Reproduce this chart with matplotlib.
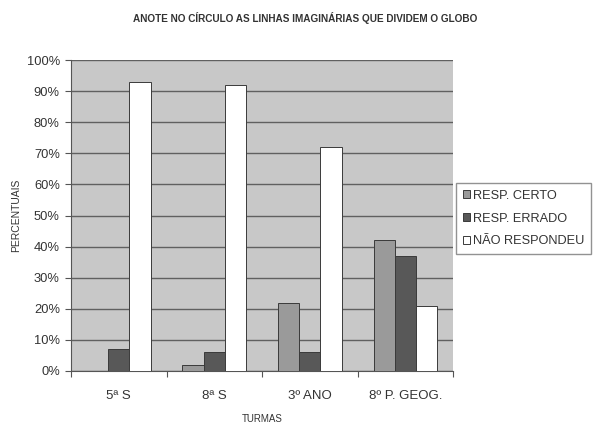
import numpy as np
import matplotlib
matplotlib.use("Agg")
import matplotlib.pyplot as plt
from matplotlib.ticker import FuncFormatter

plt.rcParams["font.family"] = ["Liberation Sans", "DejaVu Sans"]

turmas = ["5ª S", "8ª S", "3º ANO", "8º P. GEOG."]
series = ["RESP. CERTO", "RESP. ERRADO", "NÃO RESPONDEU"]
certo = [0, 2, 22, 42]
errado = [7, 6, 6, 37]
nao_resp = [93, 92, 72, 21]
cores = ["#9a9a9a", "#585858", "#ffffff"]

fig = plt.figure(figsize=(5.99, 4.23), dpi=100)
ax = fig.add_axes([0.1185, 0.123, 0.638, 0.735])
ax.set_facecolor("#c8c8c8")

x = np.arange(len(turmas))
w = 1 / 4.5
for i, (vals, cor) in enumerate(zip([certo, errado, nao_resp], cores)):
    ax.bar(x + (i - 1) * w, vals, w, color=cor, edgecolor="#3a3a3a",
           linewidth=0.7, label=series[i], zorder=3)

ax.set_xlim(-0.5, len(turmas) - 0.5)
ax.set_ylim(0, 100)
ax.set_yticks(range(0, 101, 10))
ax.yaxis.set_major_formatter(FuncFormatter(lambda v, _: f"{v:.0f}%"))
ax.grid(axis="y", color="#606060", lw=1.0, zorder=1)
ax.set_xticks(np.arange(-0.5, len(turmas)), minor=False)
ax.set_xticklabels([])
ax.set_xticks(x, minor=True)
ax.set_xticklabels(turmas, minor=True)
ax.tick_params(axis="x", which="minor", length=0, pad=14, labelsize=9.5,
               labelcolor="#333333")
ax.tick_params(axis="x", which="major", length=4, direction="out", color="#555555")
ax.tick_params(axis="y", length=4, direction="out", color="#555555",
               labelsize=9.3, labelcolor="#333333", pad=4)
for s in ["top", "right"]:
    ax.spines[s].set_visible(False)
for s in ["left", "bottom"]:
    ax.spines[s].set_color("#555555")

ax.set_ylabel("PERCENTUAIS", fontsize=7.5, color="#333333", labelpad=4)
ax.set_xlabel("TURMAS", fontsize=7, color="#333333", labelpad=8)
fig.text(0.51, 0.957, "ANOTE NO CÍRCULO AS LINHAS IMAGINÁRIAS QUE DIVIDEM O GLOBO",
         ha="center", va="center", fontsize=7.2, fontweight="bold", color="#333333")

leg = ax.legend(loc="center left", bbox_to_anchor=(1.0, 0.49), fontsize=9.2,
                frameon=True, fancybox=False, edgecolor="#777777",
                handlelength=0.6, handleheight=0.6, handletextpad=0.2,
                borderpad=0.5, labelspacing=0.85, borderaxespad=0.25)
for t in leg.get_texts():
    t.set_color("#333333")

fig.savefig("out.png", dpi=100)
